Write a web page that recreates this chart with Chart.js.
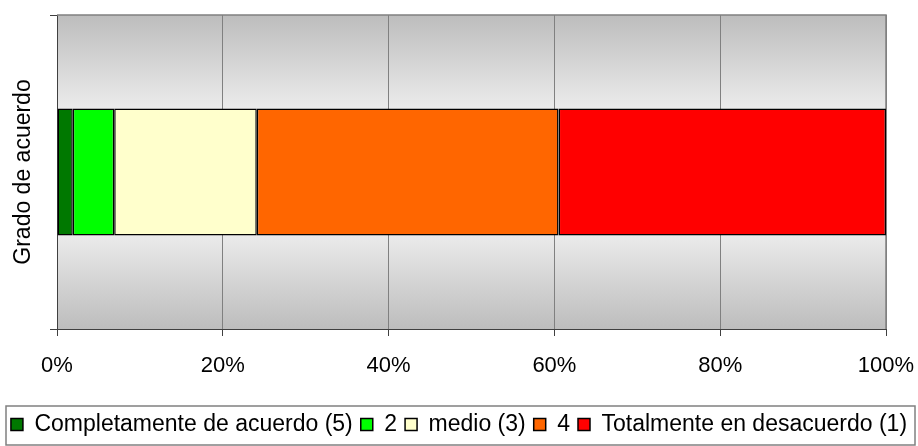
<!DOCTYPE html>
<html lang="es">
<head>
<meta charset="UTF-8">
<title>Grado de acuerdo</title>
<style>
  body { margin: 0; background: #fff; }
  #wrap { width: 918px; height: 446px; position: relative; }
</style>
</head>
<body>
<div id="wrap"><canvas id="chart"></canvas></div>
<script src="https://cdn.jsdelivr.net/npm/chart.js"></script>
<script>
// datos (porcentaje de cada grado)
const categories = [''];
const seriesNames = ['Completamente de acuerdo (5)', '2', 'medio (3)', '4', 'Totalmente en desacuerdo (1)'];
const seriesValues = [[1.9], [5.0], [17.2], [36.4], [39.5]];
const seriesColors = ['#007800', '#00ff00', '#ffffcc', '#ff6600', '#ff0000'];
const xTicks = [0, 20, 40, 60, 80, 100];
const yTitle = 'Grado de acuerdo';

const FONT = '"Liberation Sans", Arial, sans-serif';

// fondo degradado gris y marco del area de trazado
const plotFrame = {
    id: 'plotFrame',
    beforeDraw(chart) {
        const { ctx, chartArea: a } = chart;
        const g = ctx.createLinearGradient(0, a.top, 0, a.bottom);
        g.addColorStop(0, '#bdbdbd');
        g.addColorStop(0.3, '#ececec');
        g.addColorStop(0.7, '#ebebeb');
        g.addColorStop(1, '#bdbdbd');
        ctx.save();
        ctx.fillStyle = g;
        ctx.fillRect(a.left, a.top, a.right - a.left, a.bottom - a.top);
        ctx.restore();
    },
    beforeDatasetsDraw(chart) {
        const { ctx, chartArea: a } = chart;
        ctx.save();
        ctx.strokeStyle = '#808080';
        ctx.lineWidth = 1.5;
        ctx.beginPath();
        ctx.moveTo(a.left, a.top);
        ctx.lineTo(a.right, a.top);
        ctx.lineTo(a.right, a.bottom);
        ctx.stroke();
        ctx.restore();
    },
    afterDraw(chart) {
        // recuadro de la leyenda
        const { ctx } = chart;
        const lg = chart.legend;
        ctx.save();
        ctx.strokeStyle = '#808080';
        ctx.lineWidth = 1.5;
        ctx.strokeRect(6, lg.top + 1, 909, chart.height - lg.top - 2);
        ctx.restore();
    }
};

const datasets = seriesNames.map((name, i) => ({
    label: name,
    data: seriesValues[i],
    backgroundColor: seriesColors[i],
    borderColor: '#000',
    borderWidth: 1.5,
    borderSkipped: false,
    barPercentage: 0.405,
    categoryPercentage: 1
}));

new Chart(document.getElementById('chart'), {
    type: 'bar',
    data: { labels: categories, datasets: datasets },
    options: {
        indexAxis: 'y',
        responsive: true,
        maintainAspectRatio: false,
        animation: false,
        layout: { padding: { top: 15, right: 0, left: 0, bottom: 0 } },
        plugins: {
            tooltip: { enabled: false },
            legend: {
                position: 'bottom',
                labels: {
                    color: '#000',
                    font: { family: FONT, size: 23 },
                    boxWidth: 12,
                    boxHeight: 12,
                    padding: 8
                }
            }
        },
        scales: {
            x: {
                stacked: true,
                min: 0,
                max: 100,
                afterBuildTicks: s => { s.ticks = xTicks.map(v => ({ value: v })); },
                afterFit: s => {
                    s.height = 76;
                    s.paddingLeft = 0;
                    s.paddingRight = 0;
                },
                ticks: {
                    color: '#000',
                    font: { family: FONT, size: 22 },
                    padding: 17,
                    callback: v => v + '%'
                },
                grid: { color: '#808080', tickColor: '#404040', tickLength: 7, lineWidth: 1 },
                border: { color: '#404040', width: 1 }
            },
            y: {
                stacked: true,
                afterFit: s => { s.width = 57; },
                ticks: { display: false },
                grid: { offset: true, drawOnChartArea: false, color: '#404040', tickLength: 7 },
                border: { color: '#404040', width: 1 },
                title: {
                    display: true,
                    text: yTitle,
                    color: '#000',
                    font: { family: FONT, size: 23 },
                    padding: { top: 10, bottom: 0 }
                }
            },
            y2: {
                type: 'linear',
                position: 'right',
                display: true,
                afterFit: s => { s.width = 32; },
                ticks: { display: false },
                grid: { display: false },
                border: { display: false }
            }
        }
    },
    plugins: [plotFrame]
});
</script>
</body>
</html>
